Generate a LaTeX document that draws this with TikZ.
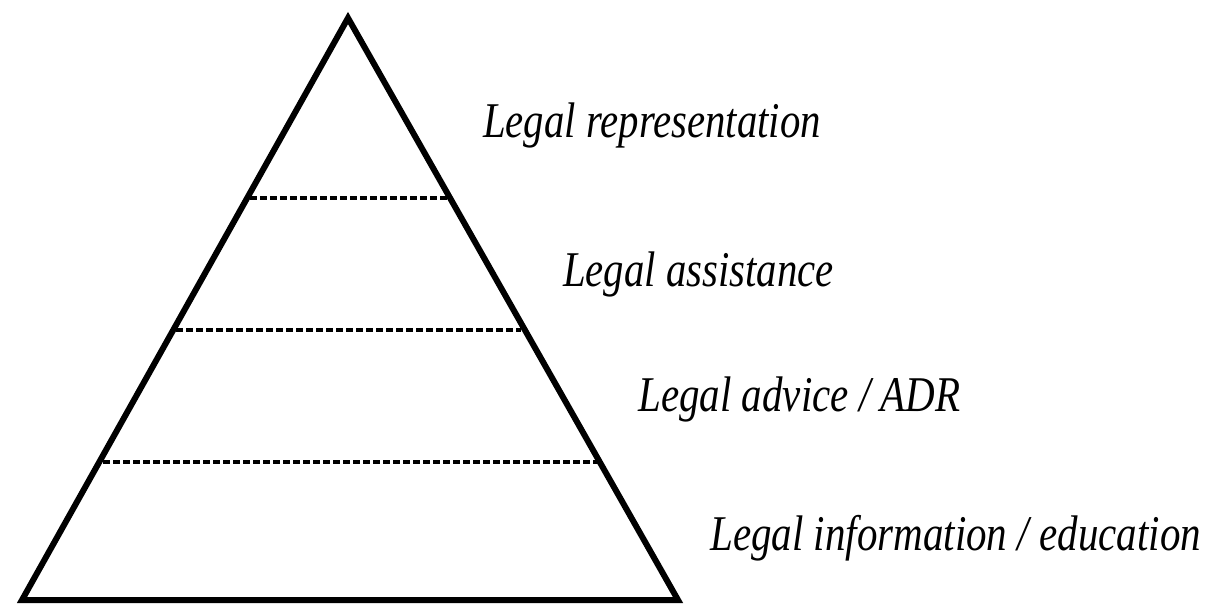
\documentclass[tikz,border=0pt]{standalone}
\usepackage{fontspec}
\setmainfont{Liberation Serif}
\begin{document}
\begin{tikzpicture}[x=1pt,y=-1pt,
  edge/.style={line width=6pt,line join=miter},
  level/.style={line width=3.8pt,dash pattern=on 7pt off 3pt},
  label/.style={anchor=base west,inner sep=0pt,font=\fontsize{50}{50}\selectfont\itshape}]
\useasboundingbox (0,0) rectangle (1213,605);
\coordinate (apex) at (348,18);
\coordinate (bl) at (22,600);
\coordinate (br) at (678,600);
\coordinate (d1l) at (250,198);
\coordinate (d1r) at (447,198);
\coordinate (d2l) at (176,330);
\coordinate (d2r) at (521,330);
\coordinate (d3l) at (103,462);
\coordinate (d3r) at (598,462);
\draw[level] (d1l) -- (d1r);
\draw[level] (d2l) -- (d2r);
\draw[level] (d3l) -- (d3r);
\draw[edge] (apex) -- (br) -- (bl) -- cycle;
\node[label] (t1) at (483,137) {\scalebox{0.815}[1]{Legal representation}};
\node[label] (t2) at (563,286) {\scalebox{0.815}[1]{Legal assistance}};
\node[label] (t3) at (638,411) {\scalebox{0.82}[1]{Legal advice / ADR}};
\node[label] (t4) at (710,550) {\scalebox{0.82}[1]{Legal information / education}};
\end{tikzpicture}
\end{document}
